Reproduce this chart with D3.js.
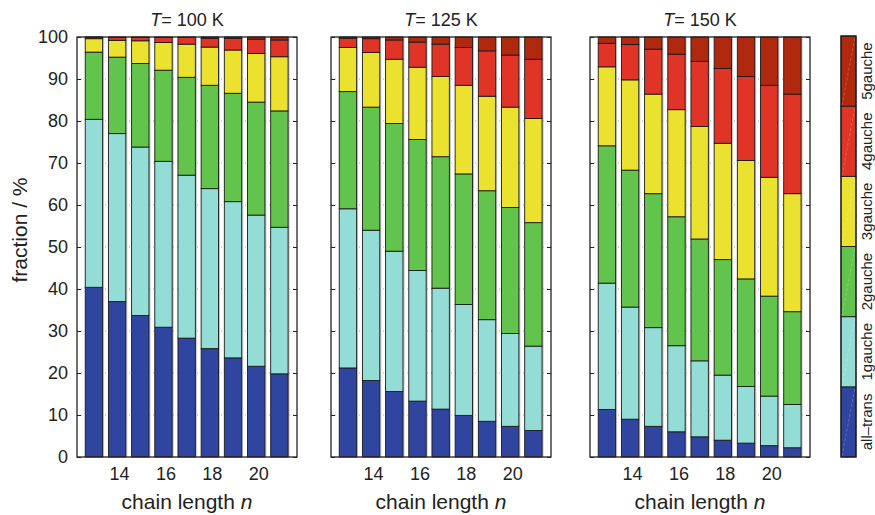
<!DOCTYPE html>
<html>
<head>
<meta charset="utf-8">
<script src="https://cdn.jsdelivr.net/npm/d3@7"></script>
<style>
  body { margin: 0; background: #fff; }
  svg { display: block; font-family: "Liberation Sans", Arial, Helvetica, sans-serif; }
</style>
</head>
<body>
<svg id="chart" width="875" height="515"></svg>
<script>
// Chain lengths on the x axis
const chainLengths = [13, 14, 15, 16, 17, 18, 19, 20, 21];
const xTickValues = [14, 16, 18, 20];
const yTickValues = [0, 10, 20, 30, 40, 50, 60, 70, 80, 90, 100];

// Conformer classes, bottom to top
const conformers = ["all\u2013trans", "1gauche", "2gauche", "3gauche", "4gauche", "5gauche"];
const conformerColors = ["#30459f", "#93ddd6", "#62c44c", "#ebe22f", "#e03427", "#b0280e"];

const temperatures = [100, 125, 150];

// Fractions (%) per conformer class, one row per class, one column per chain length
const fractionsT100 = [
  [40.4, 37.0, 33.7, 30.9, 28.3, 25.8, 23.6, 21.6, 19.8],
  [40.0, 40.0, 40.1, 39.5, 38.8, 38.1, 37.2, 36.0, 34.9],
  [16.0, 18.2, 19.9, 21.7, 23.3, 24.6, 25.8, 26.9, 27.7],
  [3.2, 4.0, 5.4, 6.6, 7.9, 9.1, 10.3, 11.6, 12.9],
  [0.35, 0.7, 0.8, 1.2, 1.6, 2.1, 2.8, 3.4, 4.0],
  [0.05, 0.1, 0.1, 0.1, 0.1, 0.3, 0.3, 0.5, 0.7]
];
const fractionsT125 = [
  [21.2, 18.2, 15.6, 13.3, 11.4, 9.9, 8.5, 7.3, 6.3],
  [37.9, 35.8, 33.4, 31.1, 28.8, 26.4, 24.2, 22.1, 20.1],
  [27.9, 29.3, 30.4, 31.2, 31.3, 31.1, 30.7, 30.0, 29.4],
  [10.5, 13.0, 15.3, 17.2, 19.1, 21.1, 22.5, 23.9, 24.8],
  [2.2, 3.3, 4.6, 6.0, 7.7, 9.0, 10.8, 12.4, 14.1],
  [0.3, 0.4, 0.7, 1.2, 1.7, 2.5, 3.3, 4.3, 5.3]
];
const fractionsT150 = [
  [11.3, 9.0, 7.3, 6.0, 4.8, 4.0, 3.3, 2.7, 2.2],
  [30.1, 26.7, 23.5, 20.5, 18.1, 15.5, 13.5, 11.8, 10.3],
  [32.7, 32.6, 31.9, 30.7, 29.0, 27.5, 25.6, 23.8, 22.1],
  [18.8, 21.5, 23.7, 25.5, 26.8, 27.7, 28.2, 28.3, 28.1],
  [5.6, 8.4, 10.7, 13.2, 15.5, 17.8, 20.0, 21.9, 23.7],
  [1.5, 1.8, 2.9, 4.1, 5.8, 7.5, 9.4, 11.5, 13.6]
];
const panelFractions = [fractionsT100, fractionsT125, fractionsT150];

// Layout
const svg = d3.select("#chart");
const panelLefts = [77, 331, 590];
const panelWidth = 220;
const plotTop = 37, plotBottom = 457;
const barWidthUnits = 0.75;

const y = d3.scaleLinear().domain([0, 100]).range([plotBottom, plotTop]);
const keys = d3.range(conformers.length);

temperatures.forEach((T, p) => {
  const left = panelLefts[p];
  const x = d3.scaleLinear().domain([12.27, 21.76]).range([left, left + panelWidth]);
  const bw = x(12 + barWidthUnits) - x(12);
  const rows = chainLengths.map((n, i) => {
    const r = { n };
    keys.forEach(k => { r[k] = panelFractions[p][k][i]; });
    return r;
  });
  const stacked = d3.stack().keys(keys)(rows);
  const g = svg.append("g");

  // dotted grid lines at the y ticks
  g.selectAll("line.grid").data(yTickValues.slice(1, -1)).join("line")
    .attr("x1", left).attr("x2", left + panelWidth)
    .attr("y1", d => y(d)).attr("y2", d => y(d))
    .attr("stroke", "#9a9a9a").attr("stroke-width", 0.8)
    .attr("stroke-dasharray", "1,3");

  // soft shadow to the right of each bar
  g.selectAll("rect.shadow").data(rows).join("rect")
    .attr("x", d => x(d.n) - bw / 2 + 1.5)
    .attr("y", y(100))
    .attr("width", bw)
    .attr("height", y(0) - y(100))
    .attr("fill", "#8a8a8a").attr("opacity", 0.5);

  // stacked bar segments
  stacked.forEach((layer, k) => {
    g.selectAll("rect.s" + k).data(layer).join("rect")
      .attr("x", d => x(d.data.n) - bw / 2)
      .attr("y", d => y(d[1]))
      .attr("width", bw)
      .attr("height", d => Math.max(0, y(d[0]) - y(d[1])))
      .attr("fill", conformerColors[k])
      .attr("stroke", "#1a1a1a").attr("stroke-width", 0.9);
  });

  // y ticks on left and right edges, pointing inward
  const yl = d3.axisRight(y).tickValues(yTickValues).tickSize(4).tickFormat("");
  const yr = d3.axisLeft(y).tickValues(yTickValues).tickSize(4).tickFormat("");
  g.append("g").attr("transform", `translate(${left},0)`).call(yl)
    .call(a => a.select(".domain").remove())
    .selectAll("line").attr("stroke", "#222");
  g.append("g").attr("transform", `translate(${left + panelWidth},0)`).call(yr)
    .call(a => a.select(".domain").remove())
    .selectAll("line").attr("stroke", "#222");

  // frame
  g.append("rect")
    .attr("x", left).attr("y", plotTop)
    .attr("width", panelWidth).attr("height", plotBottom - plotTop)
    .attr("fill", "none").attr("stroke", "#222").attr("stroke-width", 1.3);

  // x tick labels
  const xa = d3.axisBottom(x).tickValues(xTickValues).tickSize(0).tickPadding(0);
  g.append("g").attr("transform", `translate(2,${plotBottom})`).call(xa)
    .call(a => a.select(".domain").remove())
    .selectAll("text")
    .attr("dy", null).attr("y", 23)
    .attr("font-size", 18).attr("font-family", "Liberation Sans, Arial, sans-serif")
    .attr("fill", "#222");

  // x axis title
  const xt = g.append("text")
    .attr("x", left + panelWidth / 2).attr("y", 509)
    .attr("text-anchor", "middle").attr("font-size", 21).attr("fill", "#222");
  xt.append("tspan").text("chain length ");
  xt.append("tspan").attr("font-style", "italic").text("n");

  // panel title
  const tt = g.append("text")
    .attr("x", left + panelWidth / 2).attr("y", 26)
    .attr("text-anchor", "middle").attr("font-size", 18).attr("fill", "#222");
  tt.append("tspan").attr("font-style", "italic").text("T");
  tt.append("tspan").text(`= ${T} K`);

  // y tick labels only on the first panel
  if (p === 0) {
    const ya = d3.axisLeft(y).tickValues(yTickValues).tickSize(0).tickPadding(0);
    g.append("g").attr("transform", `translate(${left - 9},0)`).call(ya)
      .call(a => a.select(".domain").remove())
      .selectAll("text")
      .attr("font-size", 18).attr("font-family", "Liberation Sans, Arial, sans-serif")
      .attr("fill", "#222");
  }
});

// y axis title
svg.append("text")
  .attr("transform", "translate(27,230) rotate(-90)")
  .attr("text-anchor", "middle").attr("font-size", 21).attr("fill", "#222")
  .text("fraction / %");

// colour bar legend
const legX = 841, legW = 15;
const ly = d3.scaleBand().domain(keys).range([457, 36]).paddingInner(0);
const leg = svg.append("g");
leg.selectAll("rect").data(keys).join("rect")
  .attr("x", legX).attr("y", k => ly(k))
  .attr("width", legW).attr("height", ly.bandwidth())
  .attr("fill", k => conformerColors[k])
  .attr("stroke", "#1a1a1a").attr("stroke-width", 0.9);
leg.selectAll("line").data(keys).join("line")
  .attr("x1", legX + 1).attr("y1", k => ly(k) + ly.bandwidth() - 1)
  .attr("x2", legX + legW - 1).attr("y2", k => ly(k) + 1)
  .attr("stroke", "#fff").attr("stroke-opacity", 0.3).attr("stroke-width", 0.7)
  .attr("stroke-dasharray", "3,2");
leg.append("rect")
  .attr("x", legX).attr("y", 36).attr("width", legW).attr("height", 421)
  .attr("fill", "none").attr("stroke", "#1a1a1a").attr("stroke-width", 1.2);
leg.selectAll("text").data(keys).join("text")
  .attr("transform", k => `translate(872,${ly(k) + ly.bandwidth() / 2}) rotate(-90)`)
  .attr("text-anchor", "middle").attr("font-size", 15).attr("fill", "#222")
  .text(k => conformers[k]);
</script>
</body>
</html>
